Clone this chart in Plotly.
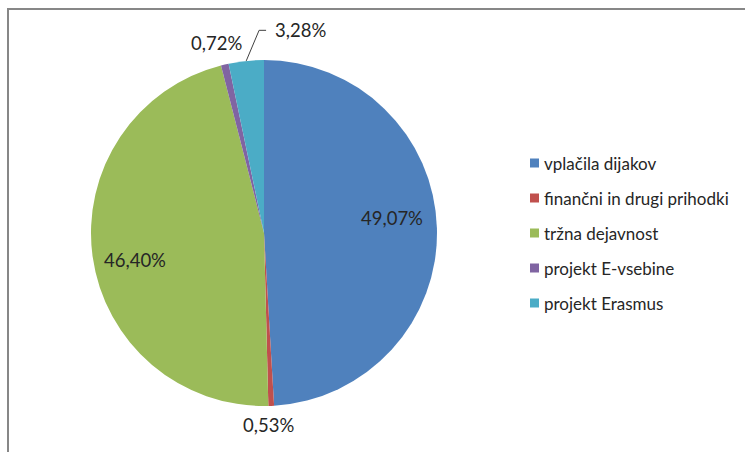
import math
import plotly.graph_objects as go

categories = ["vplačila dijakov", "finančni in drugi prihodki", "tržna dejavnost",
              "projekt E-vsebine", "projekt Erasmus"]
values = [49.07, 0.53, 46.40, 0.72, 3.28]
colors = ["#4F81BD", "#C0504D", "#9BBB59", "#8064A2", "#4BACC6"]

# label placement: (radius factor, angle nudge in degrees)
label_place = [(0.745, -5), (1.11, 1), (0.763, -4), (1.13, -1), (1.19, 16)]

W, H = 745, 452
CX, CY, R = 264, 233, 173
FONT = "Lato, 'Open Sans', sans-serif"
TXT = "#262626"


def px(x):
    return x / W


def py(y):
    return 1 - y / H


fig = go.Figure()
fig.add_trace(go.Pie(
    labels=categories, values=values, sort=False, direction="clockwise", rotation=0,
    marker=dict(colors=colors, line=dict(width=0)),
    textinfo="none", hoverinfo="label+percent", showlegend=False,
    domain=dict(x=[px(CX - R), px(CX + R)], y=[py(CY + R), py(CY - R)]),
))

annotations = []
shapes = []
total = sum(values)
cum = 0.0
for i, v in enumerate(values):
    mid = (cum + v / 2) / total * 360.0
    cum += v
    rf, nudge = label_place[i]
    ang = math.radians(mid + nudge)
    lx = CX + rf * R * math.sin(ang)
    ly = CY - rf * R * math.cos(ang)
    txt = f"{v / total * 100:.2f}".replace(".", ",") + "%"
    annotations.append(dict(x=px(lx), y=py(ly), xref="paper", yref="paper", text=txt,
                            showarrow=False, font=dict(family=FONT, size=18.5, color=TXT),
                            xanchor="center", yanchor="middle"))
    if i == 4:
        # leader line from slice edge to label
        m = math.radians(mid)
        ex = CX + R * math.sin(m)
        ey = CY - R * math.cos(m)
        hx = lx - 34
        kx = hx - 7
        shapes.append(dict(type="path", xref="paper", yref="paper",
                           path=f"M {px(ex)},{py(ey)} L {px(kx)},{py(ly)} L {px(hx)},{py(ly)}",
                           line=dict(color="#404040", width=1)))

# manual legend
LEG_X, LEG_Y0, LEG_DY, SQ = 530, 163, 35, 9
for i, (c, col) in enumerate(zip(categories, colors)):
    yc = LEG_Y0 + i * LEG_DY
    shapes.append(dict(type="rect", xref="paper", yref="paper",
                       x0=px(LEG_X), x1=px(LEG_X + SQ), y0=py(yc + SQ / 2), y1=py(yc - SQ / 2),
                       fillcolor=col, line=dict(width=0)))
    annotations.append(dict(x=px(LEG_X + SQ + 3), y=py(yc), xref="paper", yref="paper",
                            text=c, showarrow=False, xanchor="left", yanchor="middle",
                            font=dict(family=FONT, size=17, color=TXT)))

# chart frame (top and left edges visible)
shapes.append(dict(type="line", xref="paper", yref="paper", x0=px(7), x1=1, y0=py(9), y1=py(9),
                   line=dict(color="#878787", width=2)))
shapes.append(dict(type="line", xref="paper", yref="paper", x0=px(8), x1=px(8), y0=py(8), y1=0,
                   line=dict(color="#878787", width=2)))

fig.update_layout(width=W, height=H, margin=dict(l=0, r=0, t=0, b=0),
                  paper_bgcolor="white", plot_bgcolor="white",
                  annotations=annotations, shapes=shapes, font=dict(family=FONT))
fig.write_html("out.html", config={"displayModeBar": False},
               post_script="document.body.style.margin='0';")
